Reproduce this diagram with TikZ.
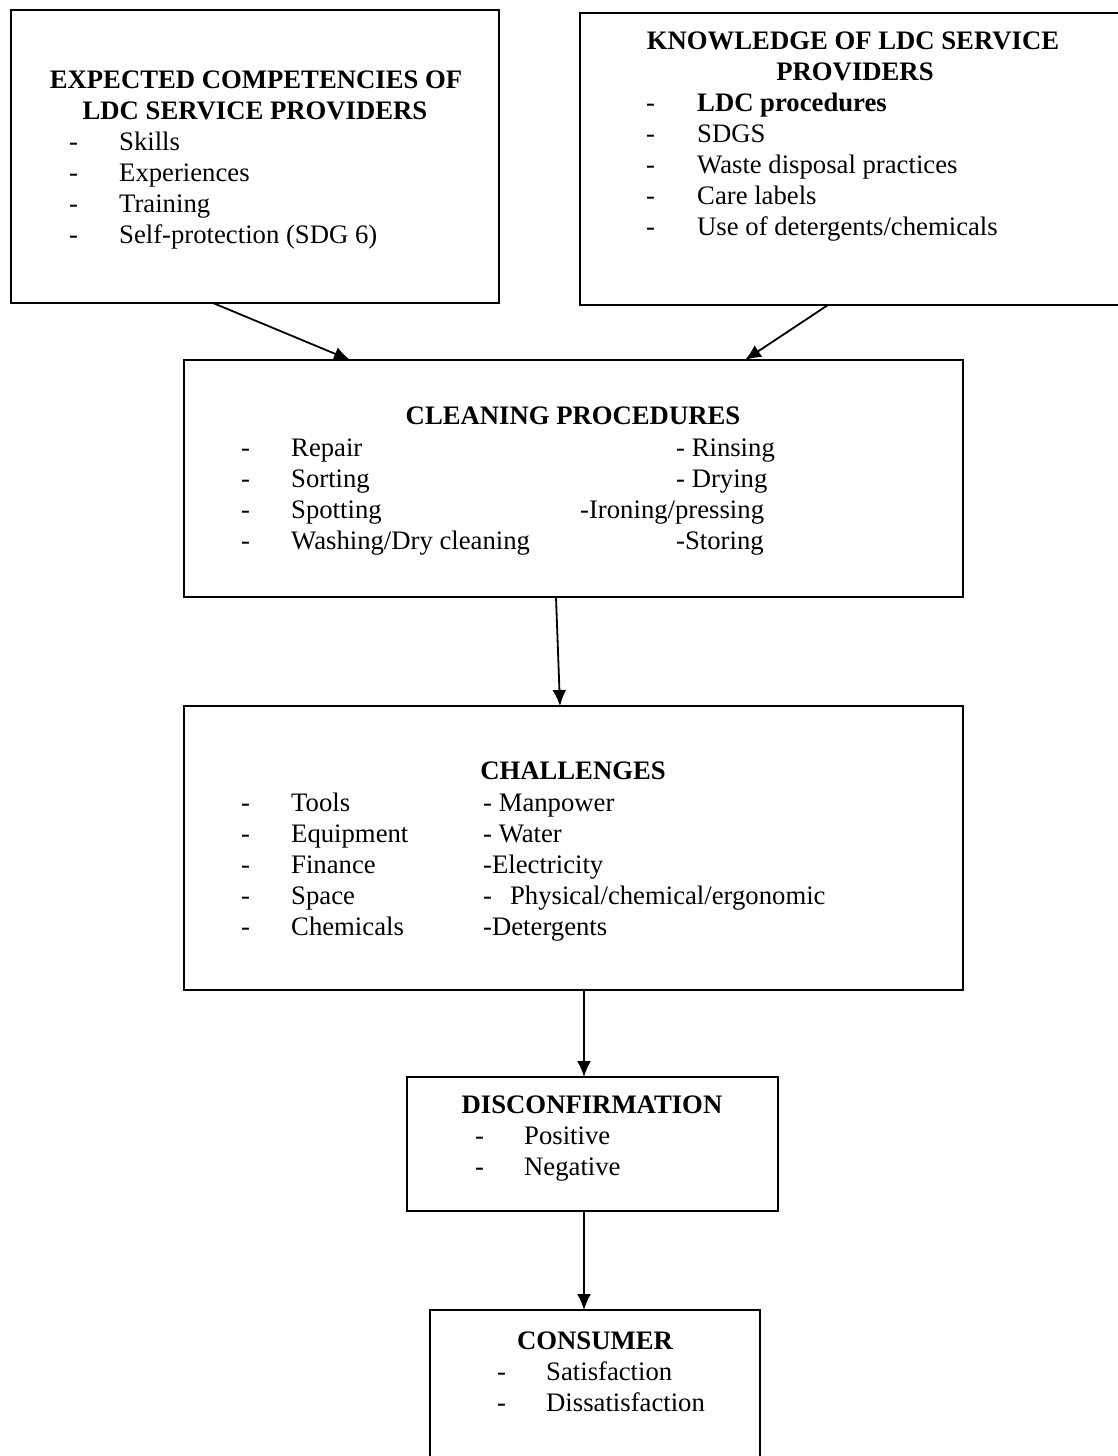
\documentclass[tikz,border=0pt]{standalone}
\usepackage{fontspec}
\setmainfont{Liberation Serif}
\usetikzlibrary{calc,arrows.meta}
\newcommand{\bodyfont}{\fontsize{26.7pt}{31pt}\selectfont}
\tikzset{
	box/.style={draw, line width=2.5pt, inner sep=0pt, outer sep=0pt, anchor=north west},
	head/.style={font=\bodyfont\bfseries, anchor=base, inner sep=0pt},
	txt/.style={font=\bodyfont, anchor=base west, inner sep=0pt},
	arr/.style={line width=1.8pt, -{Latex[length=16pt,width=14pt]}}
}
\begin{document}
\begin{tikzpicture}[x=1pt, y=-1pt]
		%%%%% START %%%%%
		\useasboundingbox (0, 0) rectangle (1118, 1456);
		\clip (0, 0) rectangle (1118, 1456);
		
		\node[box, minimum width=488pt, minimum height=293pt] (expect) at (11, 10) {};
		\node[box, minimum width=545pt, minimum height=292pt] (know) at (580, 13) {};
		\node[box, minimum width=779pt, minimum height=237pt] (clean) at (184, 360) {};
		\node[box, minimum width=779pt, minimum height=284pt] (chall) at (184, 706) {};
		\node[box, minimum width=371pt, minimum height=134pt] (disc) at (407, 1077) {};
		\node[box, minimum width=330pt, minimum height=200pt] (cons) at (430, 1310) {};
		
		% expected competencies
		\node[head] (expecthead1) at (256, 88) {EXPECTED COMPETENCIES OF};
		\node[head] (expecthead2) at (255, 119) {LDC SERVICE PROVIDERS};
		\foreach \t [count=\i] in {Skills, Experiences, Training, Self-protection (SDG 6)} {
			\node[txt] (expectdash\i) at (69, 119+31*\i) {-};
			\node[txt] (expectitem\i) at (119, 119+31*\i) {\t};
		}
		
		% knowledge
		\node[head] (knowhead1) at (853, 49) {KNOWLEDGE OF LDC SERVICE};
		\node[head] (knowhead2) at (855, 80) {PROVIDERS};
		\foreach \t [count=\i] in {\textbf{LDC procedures}, SDGS, Waste disposal practices, Care labels, Use of detergents/chemicals} {
			\node[txt] (knowdash\i) at (646, 80+31*\i) {-};
			\node[txt] (knowitem\i) at (697, 80+31*\i) {\t};
		}
		
		% cleaning procedures
		\node[head] (cleanhead) at (573, 424) {CLEANING PROCEDURES};
		\foreach \t [count=\i] in {Repair, Sorting, Spotting, Washing/Dry cleaning} {
			\node[txt] (cleandash\i) at (241, 425+31*\i) {-};
			\node[txt] (cleanitem\i) at (291, 425+31*\i) {\t};
		}
		\foreach \x/\t [count=\i] in {676/{- Rinsing}, 676/{- Drying}, 580/{-Ironing/pressing}, 676/{-Storing}} {
			\node[txt] (cleanright\i) at (\x, 425+31*\i) {\t};
		}
		
		% challenges
		\node[head] (challhead) at (573, 779) {CHALLENGES};
		\foreach \t [count=\i] in {Tools, Equipment, Finance, Space, Chemicals} {
			\node[txt] (challdash\i) at (241, 780+31*\i) {-};
			\node[txt] (challitem\i) at (291, 780+31*\i) {\t};
		}
		\foreach \t [count=\i] in {- Manpower, - Water, -Electricity, -\hspace{18pt}Physical/chemical/ergonomic, -Detergents} {
			\node[txt] (challright\i) at (483, 780+31*\i) {\t};
		}
		
		% disconfirmation
		\node[head] (dischead) at (592, 1113) {DISCONFIRMATION};
		\foreach \t [count=\i] in {Positive, Negative} {
			\node[txt] (discdash\i) at (475, 1113+31*\i) {-};
			\node[txt] (discitem\i) at (524, 1113+31*\i) {\t};
		}
		
		% consumer
		\node[head] (conshead) at (595, 1349) {CONSUMER};
		\foreach \t [count=\i] in {Satisfaction, Dissatisfaction} {
			\node[txt] (consdash\i) at (497, 1349+31*\i) {-};
			\node[txt] (consitem\i) at (546, 1349+31*\i) {\t};
		}
		
		\draw[arr] ($(expect.south west)+(202, 0)$) -- ($(clean.north west)+(166, 0)$);
		\draw[arr] ($(know.south west)+(248, 0)$) -- ($(clean.north west)+(561, 0)$);
		\draw[arr] ($(clean.south west)+(372, 0)$) -- ($(chall.north west)+(376, 0)$);
		\draw[arr] ($(chall.south west)+(400, 0)$) -- ($(disc.north west)+(177, 0)$);
		\draw[arr] ($(disc.south west)+(177, 0)$) -- ($(cons.north west)+(154, 0)$);
		%%%%% END %%%%%
\end{tikzpicture}
\end{document}
